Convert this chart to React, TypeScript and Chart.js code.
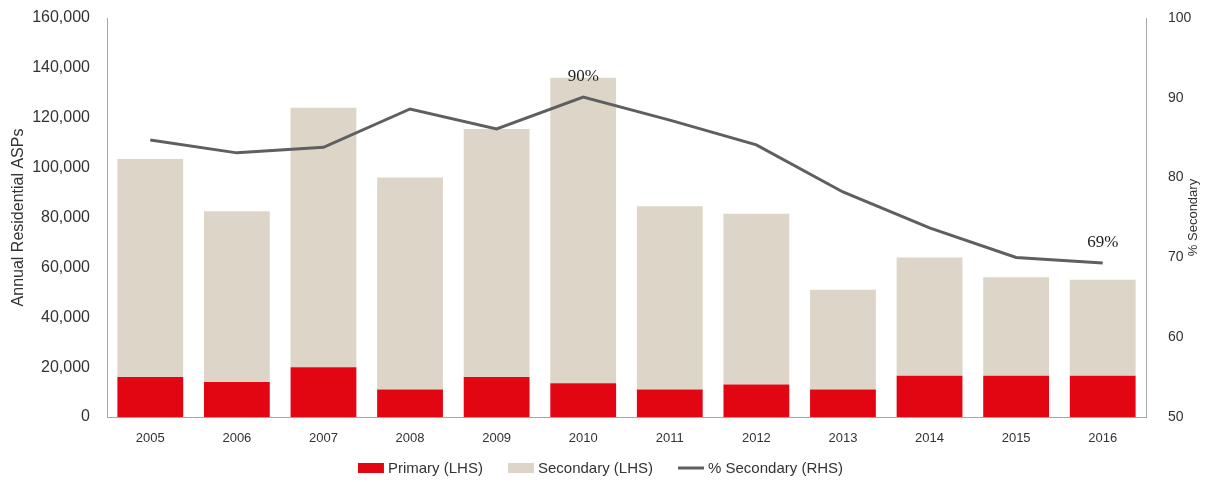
import React, { useEffect, useRef } from "react";
import { Chart, registerables } from "chart.js";

Chart.register(...registerables);

const years = ["2005", "2006", "2007", "2008", "2009", "2010", "2011", "2012", "2013", "2014", "2015", "2016"];
const primary = [16000, 14000, 20000, 11000, 16000, 13500, 11000, 13000, 11000, 16500, 16500, 16500];
const secondary = [87500, 68500, 104000, 85000, 99500, 122500, 73500, 68500, 40000, 47500, 39500, 38500];
const pctSecondary = [84.7, 83.1, 83.8, 88.6, 86.1, 90.1, 87.2, 84.1, 78.2, 73.7, 70.0, 69.3];
const annotated = [
  { index: 5, text: "90%" },
  { index: 11, text: "69%" },
];

const RED = "#E20613";
const BEIGE = "#DCD5C8";
const LINE = "#5E5F61";
const AXIS = "#A6A6A6";
const TEXT = "#333333";
const SANS = "'Liberation Sans', Arial, sans-serif";

const extrasPlugin = {
  id: "extras",
  afterDatasetsDraw(chart: any) {
    const ctx = chart.ctx;
    const lineIdx = chart.data.datasets.findIndex((d: any) => d.type === "line");
    const meta = chart.getDatasetMeta(lineIdx);
    ctx.save();
    ctx.font = "17px 'Liberation Serif', 'Times New Roman', serif";
    ctx.fillStyle = "#222";
    ctx.textAlign = "center";
    ctx.textBaseline = "middle";
    annotated.forEach((a) => {
      const pt = meta.data[a.index];
      ctx.fillText(a.text, pt.x, pt.y - 20);
    });
    ctx.restore();
  },
  afterDraw(chart: any) {
    const ctx = chart.ctx;
    // right axis title, reading bottom-to-top
    const y1 = chart.scales.y1;
    ctx.save();
    ctx.font = "13px " + SANS;
    ctx.fillStyle = TEXT;
    ctx.textAlign = "center";
    ctx.textBaseline = "middle";
    ctx.translate(1193, (y1.top + y1.bottom) / 2);
    ctx.rotate(-Math.PI / 2);
    ctx.fillText("% Secondary", 0, 0);
    ctx.restore();

    // legend
    ctx.save();
    ctx.font = "15px " + SANS;
    const items = chart.data.datasets.map((d: any) => ({
      text: d.label,
      color: d.type === "line" ? d.borderColor : d.backgroundColor,
      isLine: d.type === "line",
    }));
    const boxW = 26;
    const gapBox = 4;
    const gapItem = 25;
    const widths = items.map((it: any) => boxW + gapBox + ctx.measureText(it.text).width);
    const total = widths.reduce((s: number, w: number) => s + w, 0) + gapItem * (items.length - 1);
    let x = (chart.width - total) / 2 - 5;
    const yc = 468;
    ctx.textBaseline = "middle";
    ctx.textAlign = "left";
    items.forEach((it: any, i: number) => {
      if (it.isLine) {
        ctx.strokeStyle = it.color;
        ctx.lineWidth = 3;
        ctx.beginPath();
        ctx.moveTo(x, yc);
        ctx.lineTo(x + boxW, yc);
        ctx.stroke();
      } else {
        ctx.fillStyle = it.color;
        ctx.fillRect(x, yc - 5, boxW, 10);
      }
      ctx.fillStyle = TEXT;
      ctx.fillText(it.text, x + boxW + gapBox, yc + 1);
      x += widths[i] + gapItem;
    });
    ctx.restore();
  },
};

export default function App() {
  const ref = useRef<HTMLCanvasElement>(null);

  useEffect(() => {
    if (!ref.current) return;
    Chart.defaults.font.family = SANS;
    Chart.defaults.color = TEXT;
    const chart = new Chart(ref.current, {
      type: "bar",
      data: {
        labels: years,
        datasets: [
          {
            type: "bar",
            label: "Primary (LHS)",
            data: primary,
            backgroundColor: RED,
            yAxisID: "y",
            order: 2,
            barPercentage: 0.76,
            categoryPercentage: 1,
          },
          {
            type: "bar",
            label: "Secondary (LHS)",
            data: secondary,
            backgroundColor: BEIGE,
            yAxisID: "y",
            order: 3,
            barPercentage: 0.76,
            categoryPercentage: 1,
          },
          {
            type: "line",
            label: "% Secondary (RHS)",
            data: pctSecondary,
            borderColor: LINE,
            backgroundColor: LINE,
            borderWidth: 3,
            pointRadius: 0,
            tension: 0,
            yAxisID: "y1",
            order: 0,
          },
        ] as any,
      },
      options: {
        responsive: false,
        animation: false,
        layout: { padding: { top: 18, left: 0, right: 0, bottom: 0 } },
        plugins: {
          legend: { display: false },
          tooltip: { enabled: false },
        },
        scales: {
          x: {
            stacked: true,
            grid: { display: false, drawTicks: false },
            border: { display: true, color: AXIS, width: 1 },
            ticks: { font: { size: 13 }, padding: 14, color: TEXT },
            afterFit: (s: any) => {
              s.height = 65;
              s.paddingLeft = 0;
              s.paddingRight = 0;
            },
          },
          y: {
            stacked: true,
            position: "left",
            min: 0,
            max: 160000,
            grid: { display: false, drawTicks: false },
            border: { display: true, color: AXIS, width: 1 },
            ticks: {
              stepSize: 20000,
              font: { size: 16 },
              padding: 17,
              color: TEXT,
              callback: (v: any) => Number(v).toLocaleString("en-US"),
            },
            title: {
              display: true,
              text: "Annual Residential ASPs",
              font: { size: 16 },
              color: TEXT,
              padding: { top: 9, bottom: 0 },
            },
            afterFit: (s: any) => {
              s.width = 107;
              s.paddingTop = 0;
              s.paddingBottom = 0;
            },
          },
          y1: {
            position: "right",
            min: 50,
            max: 100,
            grid: { display: false, drawTicks: false },
            border: { display: true, color: AXIS, width: 1 },
            ticks: { stepSize: 10, font: { size: 14 }, padding: 22, color: TEXT },
            afterFit: (s: any) => {
              s.width = 65;
              s.paddingTop = 0;
              s.paddingBottom = 0;
            },
          },
        },
      },
      plugins: [extrasPlugin],
    } as any);
    return () => chart.destroy();
  }, []);

  return (
    <div style={{ position: "fixed", left: 0, top: 0, width: 1211, height: 482, background: "#fff" }}>
      <canvas ref={ref} width={1211} height={482} style={{ display: "block" }} />
    </div>
  );
}
